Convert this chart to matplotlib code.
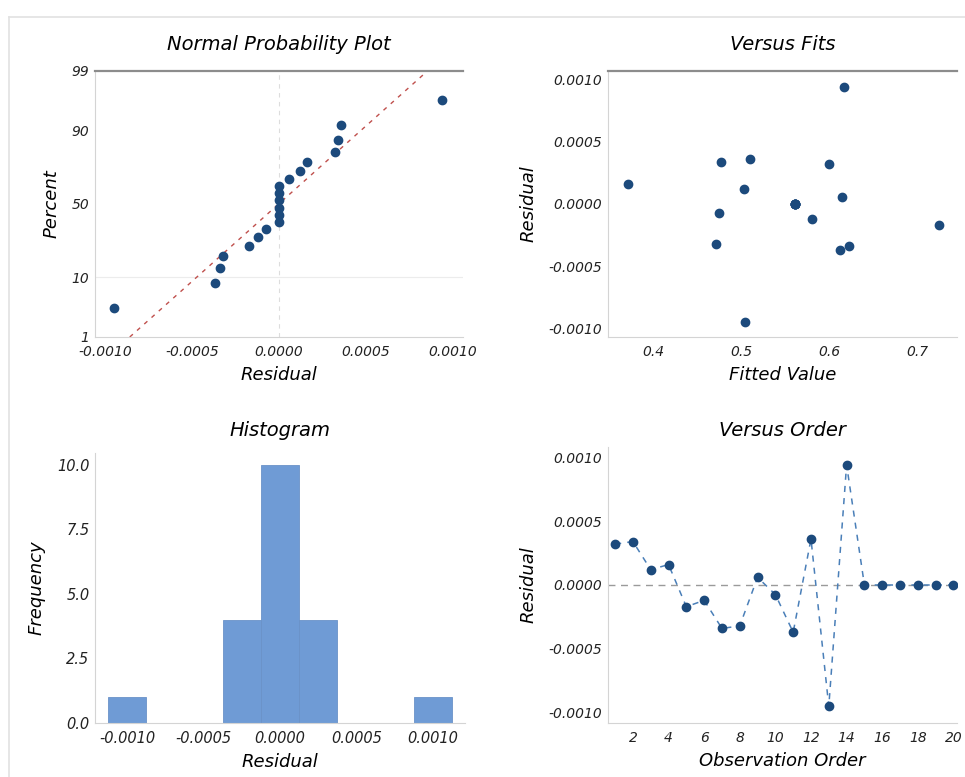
import numpy as np
import matplotlib
matplotlib.use("Agg")
import matplotlib.pyplot as plt
from matplotlib.lines import Line2D
from statistics import NormalDist

# residuos e valores ajustados por ordem de observacao
ordem = list(range(1, 21))
residuos = [0.00032, 0.00034, 0.00012, 0.00016, -0.00017, -0.00012, -0.00034,
            -0.00032, 0.00006, -0.000075, -0.00037, 0.00036, -0.00095, 0.00094,
            0.0, 0.0, 0.0, 0.0, 0.0, 0.0]
ajustados = [0.600, 0.477, 0.503, 0.372, 0.725, 0.581, 0.623, 0.472, 0.614, 0.475,
             0.612, 0.510, 0.505, 0.617, 0.561, 0.561, 0.561, 0.561, 0.561, 0.561]

pct_ticks = [1, 10, 50, 90, 99]
hist_bordas = [-0.001125, -0.000875, -0.000625, -0.000375, -0.000125,
               0.000125, 0.000375, 0.000625, 0.000875, 0.001125]
res_ticks = [-0.001, -0.0005, 0, 0.0005, 0.001]
res_rotulos = ["-0.0010", "-0.0005", "0.0000", "0.0005", "0.0010"]

AZUL = "#1c4a7c"
BARRA = "#6f9bd5"
CINZA = "#d4d4d4"

plt.rcParams["font.family"] = "DejaVu Sans"
plt.rcParams["font.style"] = "italic"

nd = NormalDist()
res = np.array(residuos)
n = len(res)

fig = plt.figure(figsize=(9.65, 7.77), dpi=100)

def estilo(ax, titulo, xlab, ylab, pad_titulo, topo=False, tam_ticks=10):
    ax.spines["right"].set_visible(False)
    ax.spines["left"].set_color(CINZA)
    ax.spines["bottom"].set_color(CINZA)
    if topo:
        ax.spines["top"].set_color("#8c8c8c")
        ax.spines["top"].set_linewidth(1.6)
    else:
        ax.spines["top"].set_visible(False)
    ax.tick_params(length=0, labelsize=tam_ticks, colors="#222222")
    ax.tick_params(axis="x", pad=6)
    ax.tick_params(axis="y", pad=4)
    ax.set_title(titulo, fontsize=14, style="italic", pad=pad_titulo)
    ax.set_xlabel(xlab, fontsize=13, style="italic", labelpad=5)
    ax.set_ylabel(ylab, fontsize=13, style="italic", labelpad=8)

# --- grafico de probabilidade normal (postos medianos)
ax1 = fig.add_axes([95 / 965, 1 - 337 / 777, 368 / 965, 266 / 777])
ordenados = np.sort(res)
posicoes = (np.arange(1, n + 1) - 0.3) / (n + 0.4)
z = np.array([nd.inv_cdf(p) for p in posicoes])
zlim = nd.inv_cdf(0.99)
media, desvio = res.mean(), res.std(ddof=1)
zl = np.array([-zlim, zlim])
ax1.axvline(0, color="#dddddd", lw=0.8, ls=(0, (4, 4)))
ax1.axhline(nd.inv_cdf(0.10), color="#ececec", lw=0.8)
ax1.plot(media + zl * desvio, zl, color="#c0504d", lw=1.0, ls=(0, (3, 4)))
ax1.plot(ordenados, z, "o", color=AZUL, ms=6)
ax1.set_ylim(-zlim, zlim)
ax1.set_xlim(-0.00106, 0.00106)
ax1.set_yticks([nd.inv_cdf(p / 100) for p in pct_ticks])
ax1.set_yticklabels([str(p) for p in pct_ticks])
ax1.set_xticks(res_ticks)
ax1.set_xticklabels(res_rotulos)
estilo(ax1, "Normal Probability Plot", "Residual", "Percent", 15, topo=True)

# --- residuos versus ajustados
ax2 = fig.add_axes([608 / 965, 1 - 337 / 777, 349 / 965, 266 / 777])
ax2.plot(ajustados, residuos, "o", color=AZUL, ms=6)
ax2.set_xlim(0.349, 0.745)
ax2.set_ylim(-0.00107, 0.00107)
ax2.set_xticks([0.4, 0.5, 0.6, 0.7])
ax2.set_yticks(res_ticks)
ax2.set_yticklabels(res_rotulos)
estilo(ax2, "Versus Fits", "Fitted Value", "Residual", 15, topo=True)

# --- histograma
ax3 = fig.add_axes([95 / 965, 1 - 723 / 777, 370 / 965, 270 / 777])
ax3.hist(res, bins=hist_bordas, color=BARRA, edgecolor="#6a92c8", linewidth=0.6)
ax3.set_xlim(-0.00121, 0.00121)
ax3.set_ylim(0, 10.45)
ax3.set_yticks([0, 2.5, 5.0, 7.5, 10.0])
ax3.set_yticklabels(["0.0", "2.5", "5.0", "7.5", "10.0"])
ax3.set_xticks(res_ticks)
ax3.set_xticklabels(res_rotulos)
estilo(ax3, "Histogram", "Residual", "Frequency", 12, tam_ticks=10.5)

# --- residuos versus ordem
ax4 = fig.add_axes([608 / 965, 1 - 723 / 777, 349 / 965, 276 / 777])
ax4.axhline(0, color="#9a9a9a", lw=1.0, ls=(0, (5, 4)))
ax4.plot(ordem, residuos, color="#4a7fb8", lw=1.1, ls=(0, (4, 4)),
         marker="o", ms=6, mfc=AZUL, mec=AZUL)
ax4.set_xlim(0.6, 20.2)
ax4.set_ylim(-0.00108, 0.00108)
ax4.set_xticks(range(2, 21, 2))
ax4.set_yticks(res_ticks)
ax4.set_yticklabels(res_rotulos)
estilo(ax4, "Versus Order", "Observation Order", "Residual", 8)

# moldura clara
fig.add_artist(Line2D([9 / 965, 1], [1 - 17 / 777, 1 - 17 / 777], color="#e2e2e2", lw=1.2))
fig.add_artist(Line2D([9 / 965, 9 / 965], [0, 1 - 17 / 777], color="#e2e2e2", lw=1.2))

fig.savefig("out.png", dpi=100)
plt.close(fig)
